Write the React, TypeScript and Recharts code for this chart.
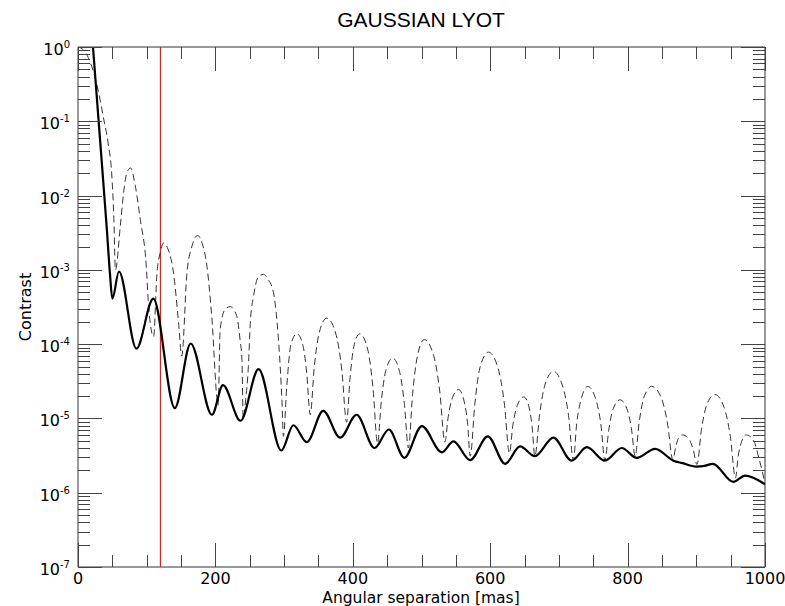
import { LineChart, Line, XAxis, YAxis, ReferenceLine } from "recharts"

const W = 785
const H = 606
const PLOT = { left: 78, right: 765, top: 47, bottom: 567 }

// [angular separation (mas), contrast]
const solidCurve: [number, number][] = [
  [21.8, 1.0], [32, 5.8e-2], [42, 3.5e-3], [46.5, 8.9e-4], [50, 4.1e-4],
  [59.6, 9.5e-4], [85, 8.7e-5], [109.6, 4.1e-4], [141, 1.38e-5], [164, 1.02e-4],
  [195, 1.12e-5], [211, 2.8e-5], [236.6, 9.3e-6], [262.8, 4.6e-5], [296, 3.7e-6],
  [313.5, 8.1e-6], [333, 4.8e-6], [357, 1.26e-5], [381.6, 5.5e-6], [405.5, 1.12e-5],
  [431.6, 4.0e-6], [452.5, 7.1e-6], [475, 2.95e-6], [500.5, 7.9e-6], [529.6, 3.5e-6],
  [546.5, 4.9e-6], [570.8, 2.75e-6], [596.5, 5.75e-6], [621.7, 2.45e-6], [643.5, 4.2e-6],
  [665, 3.1e-6], [692, 5.5e-6], [718.7, 2.7e-6], [740.6, 4.1e-6], [767, 2.7e-6],
  [791.5, 4.0e-6], [813, 2.95e-6], [840, 3.9e-6], [866.6, 2.7e-6], [880, 2.5e-6],
  [900, 2.25e-6], [912, 2.3e-6], [924, 2.45e-6], [954, 1.4e-6], [971, 1.7e-6],
  [1000, 1.3e-6],
]

const dashedCurve: [number, number][] = [
  [0, 1.0], [8, 0.91], [15, 0.72], [22, 0.48], [30, 0.245], [37, 0.112], [44, 0.05],
  [49, 0.02], [52, 5.6e-3], [54.5, 1.0e-3],
  [61.6, 3.9e-3], [66.4, 1.1e-2], [71.3, 2.05e-2], [76.5, 2.35e-2], [83.4, 1.35e-2],
  [90.6, 4.8e-3], [99.4, 1.12e-3], [102.8, 3.2e-4], [110, 1.26e-4],
  [115, 9.1e-4], [119.7, 1.7e-3], [124.6, 2.3e-3], [130, 2.0e-3], [139, 9.1e-4],
  [146.4, 1.95e-4], [151, 6.9e-5],
  [158.6, 9.1e-4], [166, 2.1e-3], [174, 2.9e-3], [181, 2.25e-3], [187.7, 1.12e-3],
  [194.5, 2.5e-4], [204, 1.5e-5],
  [207, 1.6e-4], [214.3, 2.95e-4], [221.6, 3.2e-4], [231, 2.4e-4], [236, 1.12e-4],
  [238.6, 6.3e-5], [240.5, 1.0e-5],
  [244, 1.78e-5], [248, 5e-5], [251, 2.1e-4], [255.5, 4.4e-4], [262, 7.9e-4], [270, 8.7e-4],
  [277, 7.4e-4], [284.6, 4.9e-4], [289.5, 2.1e-4], [296.8, 1.78e-5], [299, 5.75e-6],
  [304, 2.8e-5], [310, 1.0e-4], [318.6, 1.38e-4], [327, 1.0e-4], [333, 4.0e-5], [338, 1.12e-5],
  [344, 5.0e-5], [351, 1.41e-4], [362, 2.24e-4], [375, 1.41e-4], [384, 4.5e-5], [391, 8.9e-6],
  [396, 3.5e-5], [401.5, 9.3e-5], [410, 1.38e-4], [421.7, 8.5e-5], [429.5, 2.5e-5], [436, 4.6e-6],
  [441.5, 1.7e-5], [448, 4.4e-5], [458, 6.5e-5], [468, 4.3e-5], [475, 1.6e-5], [481, 4.0e-6],
  [487, 2.1e-5], [494, 6.9e-5], [504, 1.15e-4], [517.5, 7.1e-5], [526.5, 2.35e-5], [534, 4.8e-6],
  [539, 1.07e-5], [545, 1.9e-5], [554, 2.45e-5], [561.5, 1.78e-5], [567, 8.7e-6], [571, 3.1e-6],
  [577.6, 1.55e-5], [585, 4.8e-5], [597.5, 7.8e-5], [611, 4.9e-5], [620.5, 1.62e-5], [628, 3.4e-6],
  [633, 8.1e-6], [639.5, 1.5e-5], [649, 1.95e-5], [656, 1.48e-5], [661, 7.8e-6], [665, 3.1e-6],
  [672, 1.15e-5], [680, 2.9e-5], [692, 4.3e-5], [705, 2.8e-5], [714, 1.1e-5], [721, 2.75e-6],
  [726, 8.7e-6], [733, 1.9e-5], [742, 2.7e-5], [753, 1.9e-5], [761, 8.5e-6], [767, 2.7e-6],
  [772.5, 6.9e-6], [779, 1.35e-5], [789, 1.78e-5], [799, 1.35e-5], [805.5, 7.4e-6], [811, 3.1e-6],
  [817, 9.1e-6], [824, 1.95e-5], [835, 2.7e-5], [849, 1.9e-5], [858, 8.7e-6], [866, 2.75e-6],
  [870, 4.1e-6], [874, 5.4e-6], [880, 6.0e-6], [889.5, 5.25e-6], [895.5, 3.8e-6], [901, 2.4e-6],
  [907.5, 7.1e-6], [915, 1.5e-5], [927, 2.1e-5], [940.5, 1.41e-5], [949.5, 5.75e-6], [957, 1.58e-6],
  [961, 3.1e-6], [966, 4.9e-6], [973, 6.0e-6], [984, 4.9e-6], [991, 2.95e-6], [1000, 1.35e-6],
]

const xMajorTicks = [0, 200, 400, 600, 800, 1000]
const xMinorTicks = [50, 100, 150, 250, 300, 350, 450, 500, 550, 650, 700, 750, 850, 900, 950]
const yMajorTicks = [1e-7, 1e-6, 1e-5, 1e-4, 1e-3, 1e-2, 1e-1, 1]
const yMinorSteps = [2, 3, 4, 5, 6, 7, 8, 9]
const yMinorTicks = yMajorTicks
  .slice(0, -1)
  .flatMap((d) => yMinorSteps.map((m) => Number((m * d).toPrecision(2))))

const coronagraphLimit = 120

const solidData = solidCurve.map(([x, y]) => ({ x, y }))
const dashedData = dashedCurve.map(([x, y]) => ({ x, y }))

const TICK_COLOR = "#444"
const FRAME_COLOR = "#333"
const AXIS_FONT = "'DejaVu Sans', sans-serif"
const MAJOR_LEN = 24
const MINOR_LEN = 12

// pixel position of axis values inside the plot box set up by the chart margins
const px = (v: number) => PLOT.left + (v / 1000) * (PLOT.right - PLOT.left)
const py = (v: number) => PLOT.top + (-Math.log10(v) / 7) * (PLOT.bottom - PLOT.top)

function YTick(props: any) {
  const y = Number(props.y)
  const exp = Math.round(Math.log10(props.payload.value))
  return (
    <text x={PLOT.left - 8} y={y + 8} textAnchor="end" fill="#000" fontFamily={AXIS_FONT}>
      <tspan fontSize={16}>10</tspan>
      <tspan fontSize={10} dy={-7}>{exp}</tspan>
    </text>
  )
}

function XTick(props: any) {
  const x = Number(props.x)
  return (
    <text x={x} y={PLOT.bottom + 17} textAnchor="middle" fontSize={16} fill="#000" fontFamily={AXIS_FONT}>
      {props.payload.value}
    </text>
  )
}

// tick marks as thin filled rectangles, pointing inward on all four sides
function TickMarks() {
  const marks: any[] = []
  const ys: [number, number][] = [
    ...yMajorTicks.map((v) => [v, MAJOR_LEN] as [number, number]),
    ...yMinorTicks.map((v) => [v, MINOR_LEN] as [number, number]),
  ]
  ys.forEach(([v, len]) => {
    const y = Math.round(py(v))
    marks.push(
      <rect key={`yl${v}`} x={PLOT.left} y={y} width={len} height={1} fill={TICK_COLOR} />,
      <rect key={`yr${v}`} x={PLOT.right - len} y={y} width={len} height={1} fill={TICK_COLOR} />
    )
  })
  const xs: [number, number][] = [
    ...xMajorTicks.map((v) => [v, MAJOR_LEN] as [number, number]),
    ...xMinorTicks.map((v) => [v, MINOR_LEN] as [number, number]),
  ]
  xs.forEach(([v, len]) => {
    const x = Math.round(px(v))
    marks.push(
      <rect key={`xb${v}`} x={x} y={PLOT.bottom - len} width={1} height={len} fill={TICK_COLOR} />,
      <rect key={`xt${v}`} x={x} y={PLOT.top} width={1} height={len} fill={TICK_COLOR} />
    )
  })
  return <g>{marks}</g>
}

export default function App() {
  return (
    <div style={{ position: "absolute", left: 0, top: 0, width: W, height: H, background: "#fff" }}>
      <LineChart width={W} height={H} margin={{ top: PLOT.top, right: W - PLOT.right, bottom: 9, left: PLOT.left - 50 }}>
        <XAxis
          type="number"
          dataKey="x"
          domain={[0, 1000]}
          allowDataOverflow
          ticks={xMajorTicks}
          interval={0}
          tickLine={false}
          axisLine={false}
          height={30}
          tick={XTick}
        />
        <YAxis
          type="number"
          scale="log"
          domain={[1e-7, 1]}
          allowDataOverflow
          ticks={yMajorTicks}
          interval={0}
          tickLine={false}
          axisLine={false}
          width={50}
          tick={YTick}
        />
        <ReferenceLine x={0} stroke={FRAME_COLOR} ifOverflow="visible" />
        <ReferenceLine x={1000} stroke={FRAME_COLOR} ifOverflow="visible" />
        <ReferenceLine y={1e-7} stroke={FRAME_COLOR} ifOverflow="visible" />
        <ReferenceLine y={1} stroke={FRAME_COLOR} ifOverflow="visible" />
        <ReferenceLine x={coronagraphLimit} stroke="#e0201c" strokeWidth={1.2} />
        <Line
          data={dashedData}
          dataKey="y"
          type="monotone"
          stroke="#333"
          strokeWidth={1}
          strokeDasharray="7 4"
          dot={false}
          activeDot={false}
          isAnimationActive={false}
        />
        <Line
          data={solidData}
          dataKey="y"
          type="monotone"
          stroke="#000"
          strokeWidth={2.2}
          dot={false}
          activeDot={false}
          isAnimationActive={false}
        />
      </LineChart>
      <svg width={W} height={H} style={{ position: "absolute", left: 0, top: 0, pointerEvents: "none" }}>
        <TickMarks />
        <text x={421} y={27} textAnchor="middle" fontSize={21} fontFamily="'Liberation Sans', Arial, sans-serif" fill="#000">
          GAUSSIAN LYOT
        </text>
        <text x={421} y={603} textAnchor="middle" fontSize={15.5} fontFamily={AXIS_FONT} fill="#000">
          Angular separation [mas]
        </text>
        <text
          x={0}
          y={0}
          transform={`translate(31, 307) rotate(-90)`}
          textAnchor="middle"
          fontSize={16}
          fontFamily={AXIS_FONT}
          fill="#000"
        >
          Contrast
        </text>
      </svg>
    </div>
  )
}
